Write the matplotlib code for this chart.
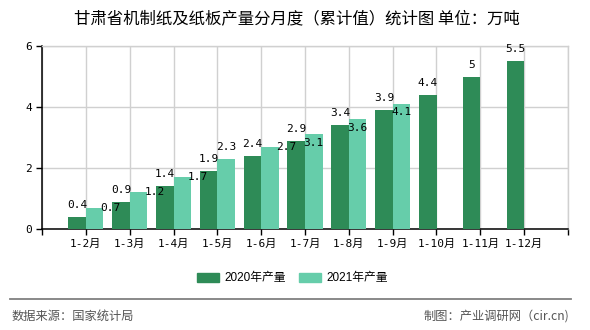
import matplotlib
matplotlib.use("Agg")
import matplotlib.pyplot as plt
from matplotlib.patches import Rectangle
from matplotlib.lines import Line2D

# Data
months = ["1-2月", "1-3月", "1-4月", "1-5月", "1-6月", "1-7月",
          "1-8月", "1-9月", "1-10月", "1-11月", "1-12月"]
output_2020 = [0.4, 0.9, 1.4, 1.9, 2.4, 2.9, 3.4, 3.9, 4.4, 5.0, 5.5]
output_2021 = [0.7, 1.2, 1.7, 2.3, 2.7, 3.1, 3.6, 4.1]
labels_2020 = ["0.4", "0.9", "1.4", "1.9", "2.4", "2.9", "3.4", "3.9", "4.4", "5", "5.5"]
labels_2021 = ["0.7", "1.2", "1.7", "2.3", "2.7", "3.1", "3.6", "4.1"]
series_names = ["2020年产量", "2021年产量"]
y_ticks = [0, 2, 4, 6]

# label placement for the 2021 series (pixel offsets from the bar top centre)
offsets_2021 = [(16, 0), (16, 0), (16, 0), (0, 12), (16, 0), (0, -9), (0, -9), (0, -8)]

C2020 = "#2E8B57"
C2021 = "#66CDAA"
MONO_CJK = ["DejaVu Sans Mono", "Noto Sans CJK SC"]
SANS_CJK = ["Liberation Sans", "Noto Sans CJK SC"]

W, H, DPI = 590, 330, 100
fig = plt.figure(figsize=(W / DPI, H / DPI), dpi=DPI)
px = 72.0 / DPI  # points per pixel

ax = fig.add_axes([42 / W, 1 - 229 / H, (568 - 42) / W, (229 - 46) / H])

bw = 0.4
pos = list(range(1, len(months) + 1))
x20 = [p - bw / 2 for p in pos]
x21 = [p + bw / 2 for p in pos[:len(output_2021)]]
ax.bar(x20, output_2020, width=bw, color=C2020, zorder=3)
ax.bar(x21, output_2021, width=bw, color=C2021, zorder=3)

for x, v, t in zip(x20, output_2020, labels_2020):
    ax.annotate(t, (x, v), xytext=(0, 12 * px), textcoords="offset points",
                ha="center", va="center", fontsize=8, family=MONO_CJK,
                color="black", zorder=5)
for x, v, t, (dx, dy) in zip(x21, output_2021, labels_2021, offsets_2021):
    ax.annotate(t, (x, v), xytext=(dx * px, dy * px), textcoords="offset points",
                ha="center", va="center", fontsize=8, family=MONO_CJK,
                color="black", zorder=5)

ax.set_xlim(0, 12)
ax.set_ylim(0, 6)
ax.set_yticks(y_ticks)
ax.set_yticklabels([str(v) for v in y_ticks], family=MONO_CJK, fontsize=8)
ax.set_xticks(list(range(0, 13)))
ax.set_xticklabels([""] + months + [""], family=MONO_CJK, fontsize=8)

ax.grid(True, color="#D0D0D0", linewidth=1, zorder=0)
ax.set_axisbelow(True)
for s in ["top", "right"]:
    ax.spines[s].set_color("#D0D0D0")
    ax.spines[s].set_linewidth(1)
for s in ["left", "bottom"]:
    ax.spines[s].set_color("black")
    ax.spines[s].set_linewidth(1.1)
ax.tick_params(axis="both", direction="out", length=4, width=1, color="black",
               pad=3, labelcolor="black")

# title
fig.text(297 / W, 1 - 18.5 / H, "甘肃省机制纸及纸板产量分月度（累计值）统计图 单位：万吨",
         ha="center", va="center", fontsize=11.8, family="Noto Sans CJK SC",
         color="black")

# legend drawn manually
def legend_item(x0, color, text):
    fig.add_artist(Rectangle((x0 / W, 1 - 282 / H), 22 / W, 9 / H,
                             transform=fig.transFigure, color=color))
    fig.text((x0 + 27) / W, 1 - 277.5 / H, text, ha="left", va="center",
             fontsize=8.5, family=SANS_CJK, color="black")

legend_item(197, C2020, series_names[0])
legend_item(299, C2021, series_names[1])

# separator and footer
fig.add_artist(Line2D([10 / W, 571 / W], [1 - 298.5 / H, 1 - 298.5 / H],
                      transform=fig.transFigure, color="#808080", linewidth=1.3))
fig.text(12 / W, 1 - 316.5 / H, "数据来源：国家统计局", ha="left", va="center",
         fontsize=8.8, family="Noto Sans CJK SC", color="#555555")
fig.text(569 / W, 1 - 316.5 / H, "制图：产业调研网（cir.cn)", ha="right", va="center",
         fontsize=8.8, family=["Noto Sans CJK SC", "DejaVu Sans Mono"], color="#555555")

fig.savefig("out.png", dpi=DPI)
